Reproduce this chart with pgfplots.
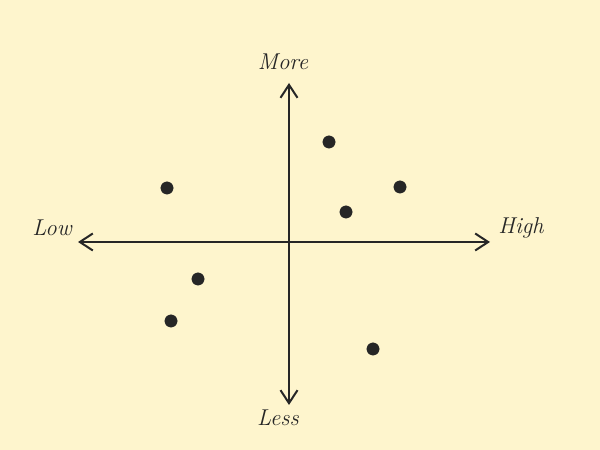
\documentclass[border=0pt]{standalone}
\usepackage{pgfplots}
\pgfplotsset{compat=1.18}
\usetikzlibrary{arrows.meta}
\definecolor{bg}{HTML}{FEF5CD}
\definecolor{ink}{HTML}{262626}
\begin{document}
\begin{tikzpicture}
\begin{axis}[
  width=600bp, height=450bp, scale only axis,
  xmin=-289, xmax=311, ymin=-208, ymax=242,
  hide axis, clip=false,
  axis background/.style={fill=bg},
]
\fill[bg] (axis cs:-289,-208) rectangle (axis cs:311,242);
\draw[ink, line width=2bp, {Straight Barb[length=13bp,width=17bp]}-{Straight Barb[length=13bp,width=17bp]}] (axis cs:-211,0) -- (axis cs:201,0);
\draw[ink, line width=2bp, {Straight Barb[length=13bp,width=17bp]}-{Straight Barb[length=13bp,width=17bp]}] (axis cs:0,-163) -- (axis cs:0,159);
\addplot[only marks, mark=*, mark size=6.2bp, color=ink] coordinates {
  (40,100) (111,55) (57,30) (-122,54) (-91,-37) (-118,-79) (84,-107)
};
\node[ink, font=\fontsize{23}{27}\selectfont\itshape] at (axis cs:-6,180) {More};
\node[ink, font=\fontsize{23}{27}\selectfont\itshape] at (axis cs:-11,-176) {Less};
\node[ink, font=\fontsize{23}{27}\selectfont\itshape] at (axis cs:-237,14) {Low};
\node[ink, font=\fontsize{23}{27}\selectfont\itshape] at (axis cs:232,14) {High};
\end{axis}
\end{tikzpicture}
\end{document}
